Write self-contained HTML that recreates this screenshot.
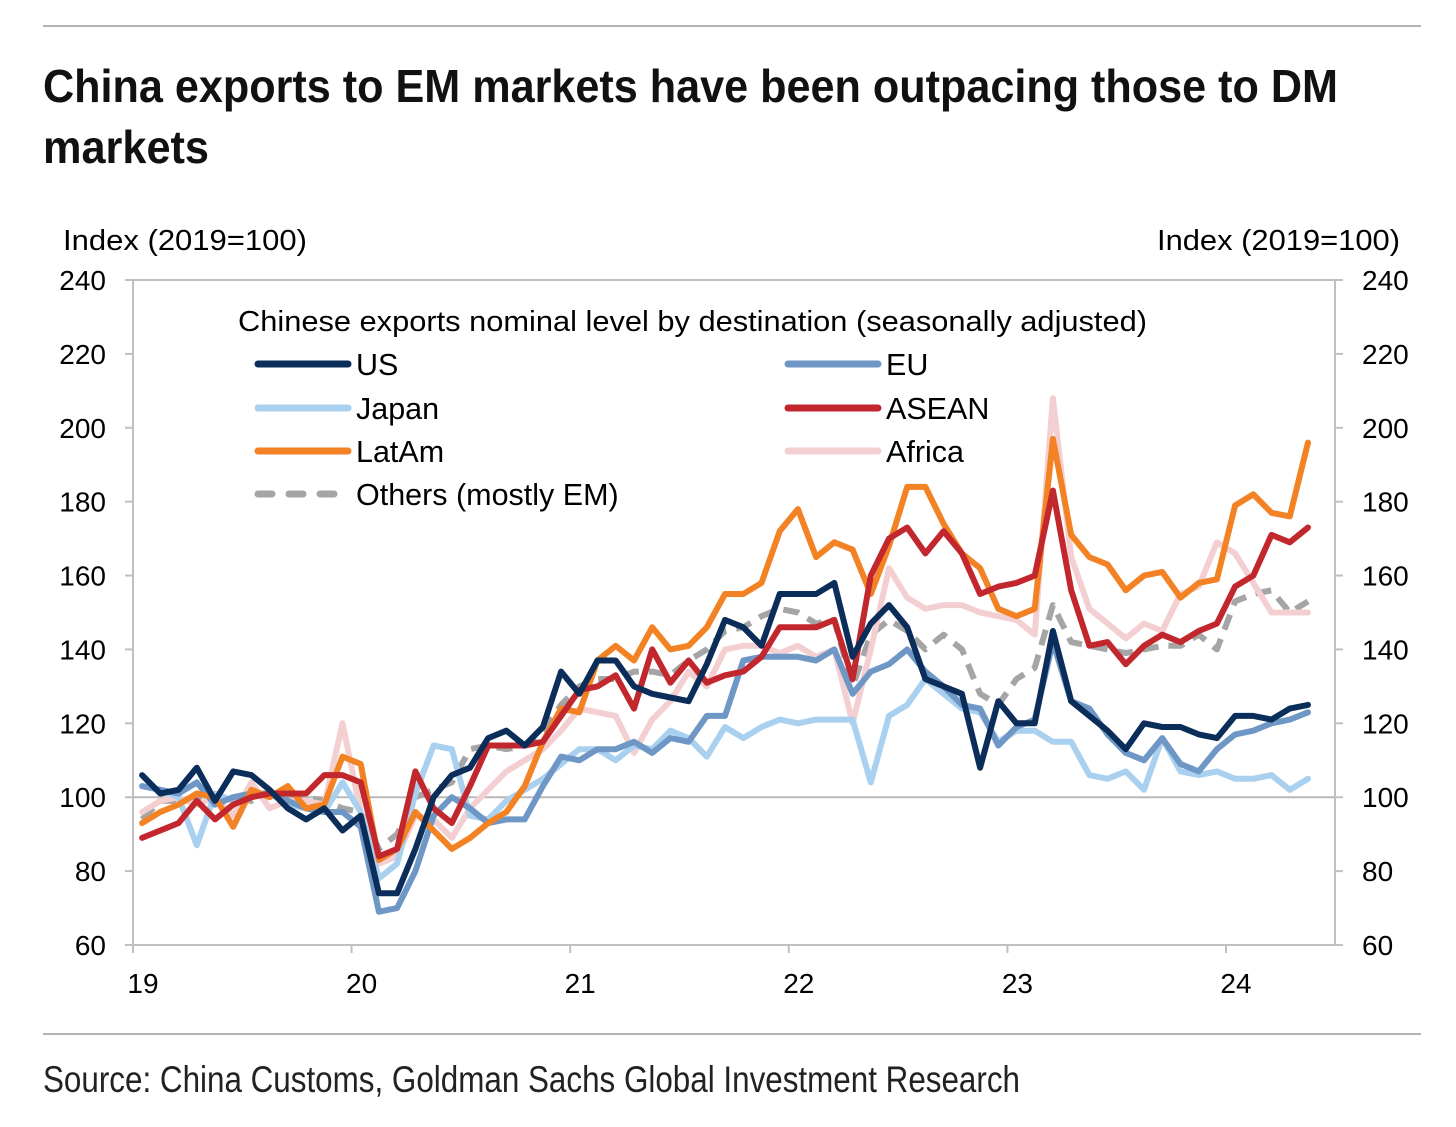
<!DOCTYPE html>
<html><head><meta charset="utf-8"><style>
html,body{margin:0;padding:0;background:#fff;}
svg{display:block;font-family:"Liberation Sans",sans-serif;}
</style></head><body>
<svg id="chart" width="1456" height="1127" viewBox="0 0 1456 1127">
<line x1="43" y1="26" x2="1421" y2="26" stroke="#999" stroke-width="1.5"/>
<text x="43" y="102" font-size="46" font-weight="bold" fill="#111" textLength="1295" lengthAdjust="spacingAndGlyphs">China exports to EM markets have been outpacing those to DM</text>
<text x="43" y="163" font-size="46" font-weight="bold" fill="#111" textLength="166" lengthAdjust="spacingAndGlyphs">markets</text>
<text x="63" y="250" font-size="29" fill="#000" textLength="244" lengthAdjust="spacingAndGlyphs">Index (2019=100)</text>
<text x="1157" y="250" font-size="29" fill="#000" textLength="243" lengthAdjust="spacingAndGlyphs">Index (2019=100)</text>
<g id="axes"></g>
<g id="series"></g>
<g id="legend"></g>
<line x1="43" y1="1034" x2="1421" y2="1034" stroke="#999" stroke-width="1.5"/>
<text x="43" y="1092" font-size="37" fill="#222" textLength="977" lengthAdjust="spacingAndGlyphs">Source: China Customs, Goldman Sachs Global Investment Research</text>
</svg>
<script>
const yTicks=[60,80,100,120,140,160,180,200,220,240];
const xLabels=["19","20","21","22","23","24"];
const seriesNames=["US","EU","Japan","ASEAN","LatAm","Africa","Others (mostly EM)"];
const usData=[106,101,102,108,99,107,106,102,97,94,97,91, 95,74,74,86,100,106,108,116,118,114,119,134, 128,137,137,130,128,127,126,136,148,146,141,155, 155,155,158,138,147,152,146,132,130,128,108,126, 120,120,145,126,122,118,113,120,119,119,117,116, 122,122,121,124,125];
const euData=[103,102,101,104,98,100,101,101,99,97,96,96, 92,69,70,80,95,100,97,93,94,94,103,111, 110,113,113,115,112,116,115,122,122,137,138,138, 138,137,140,128,134,136,140,134,130,125,124,114, 119,121,142,126,124,117,112,110,116,109,107,113, 117,118,120,121,123];
const japanData=[103,102,100,87,101,99,101,101,98,97,96,104, 96,78,82,101,114,113,95,94,99,102,105,109, 113,113,110,114,113,118,116,111,119,116,119,121, 120,121,121,121,104,122,125,132,128,124,123,115, 118,118,115,115,106,105,107,102,116,107,106,107, 105,105,106,102,105];
const aseanData=[89,91,93,99,94,98,100,101,101,101,106,106, 104,84,86,107,97,93,103,114,114,114,115,122, 129,130,133,124,140,131,137,131,133,134,138,146, 146,146,148,132,160,170,173,166,172,166,155,157, 158,160,183,156,141,142,136,141,144,142,145,147, 157,160,171,169,173];
const latamData=[93,96,98,101,100,92,102,100,103,97,98,111, 109,83,86,96,91,86,89,93,96,103,115,124, 123,137,141,137,146,140,141,146,155,155,158,172, 178,165,169,167,155,168,184,184,174,166,162,151, 149,151,197,171,165,163,156,160,161,154,158,159, 179,182,177,176,196];
const africaData=[96,99,100,98,100,95,104,97,99,99,98,120, 96,82,84,95,94,89,97,102,107,110,113,118, 124,123,122,112,121,126,134,130,140,141,141,139, 141,138,140,120,140,162,154,151,152,152,150,149, 148,144,208,165,151,147,143,147,145,155,157,169, 166,158,150,150,150];
const othersData=[94,99,99,100,99,100,99,101,100,100,99,97, 96,86,90,100,102,104,113,114,113,114,118,125, 130,132,132,134,134,133,137,140,145,146,149,151, 150,147,148,130,144,148,145,140,144,140,128,125, 132,135,152,142,141,140,139,140,141,141,144,140, 153,155,156,150,153];

const NS="http://www.w3.org/2000/svg";
const X0=133,X1=1335,Y0=945,Y1=280,YMIN=60,YMAX=240,MONTHW=218.6/12;
function yScale(v){return Y0-(v-YMIN)/(YMAX-YMIN)*(Y0-Y1);}
function xScale(i){return X0+(i+0.5)*MONTHW;}
function yearX(k){return X0+k*12*MONTHW;}
function mk(tag,attrs,parent,txt){const e=document.createElementNS(NS,tag);for(const k in attrs)e.setAttribute(k,attrs[k]);if(txt!==undefined)e.textContent=txt;parent.appendChild(e);return e;}

const axes=document.getElementById('axes');
mk('rect',{x:X0,y:Y1,width:X1-X0,height:Y0-Y1,fill:'none',stroke:'#c0c0c0','stroke-width':2},axes);
yTicks.forEach(v=>{
  const y=yScale(v);
  mk('line',{x1:X0-8,y1:y,x2:X0,y2:y,stroke:'#c0c0c0','stroke-width':2},axes);
  mk('line',{x1:X1,y1:y,x2:X1+8,y2:y,stroke:'#c0c0c0','stroke-width':2},axes);
  const l=mk('text',{x:106,y:y+10,'font-size':28,'text-anchor':'end'},axes,String(v));
  
  
  const r=mk('text',{x:1362,y:y+10,'font-size':28},axes,String(v));
  
  
});
const base=mk('line',{x1:X0,y1:yScale(100),x2:X1,y2:yScale(100),stroke:'#b8b8b8','stroke-width':2},axes);


xLabels.forEach((t,k)=>{
  const x=yearX(k);
  mk('line',{x1:x,y1:Y0,x2:x,y2:Y0+8,stroke:'#c0c0c0','stroke-width':2},axes);
  const l=mk('text',{x:x+10,y:993,'font-size':28,'text-anchor':'middle'},axes,t);
  
  
});

const colors=["#0b2d5a","#6e97c6","#a9d0ee","#c2272d","#f28224","#f4cfd2","#a5a5a5"];
const datasets=[usData,euData,japanData,aseanData,latamData,africaData,othersData];
const order=[6,5,2,1,4,3,0];
const sg=document.getElementById('series');
order.forEach(s=>{
  const d=datasets[s].map((v,i)=>(i?'L':'M')+xScale(i).toFixed(1)+','+yScale(v).toFixed(1)).join(' ');
  const p=mk('path',{d:d,fill:'none',stroke:colors[s],'stroke-width':6,'stroke-linejoin':'round','stroke-linecap':'round'},sg);
  if(s===6){p.setAttribute('stroke-dasharray','16 10');p.setAttribute('stroke-linecap','butt');}
  
  
});

const lg=document.getElementById('legend');
const lt=mk('text',{x:238,y:331,'font-size':29,'textLength':909,'lengthAdjust':'spacingAndGlyphs'},lg,'Chinese exports nominal level by destination (seasonally adjusted)');


const lpos=[[258,364],[788,364],[258,408],[788,408],[258,451],[788,451],[258,494]];
seriesNames.forEach((n,s)=>{
  const [x,y]=lpos[s];
  const ln=mk('line',{x1:x,y1:y,x2:x+90,y2:y,stroke:colors[s],'stroke-width':7,'stroke-linecap':'round'},lg);
  if(s===6){ln.setAttribute('stroke-dasharray','14 17');}
  
  
  const t=mk('text',{x:x+98,y:y+11,'font-size':30.5},lg,n);
  
  
});
</script>
</body></html>
